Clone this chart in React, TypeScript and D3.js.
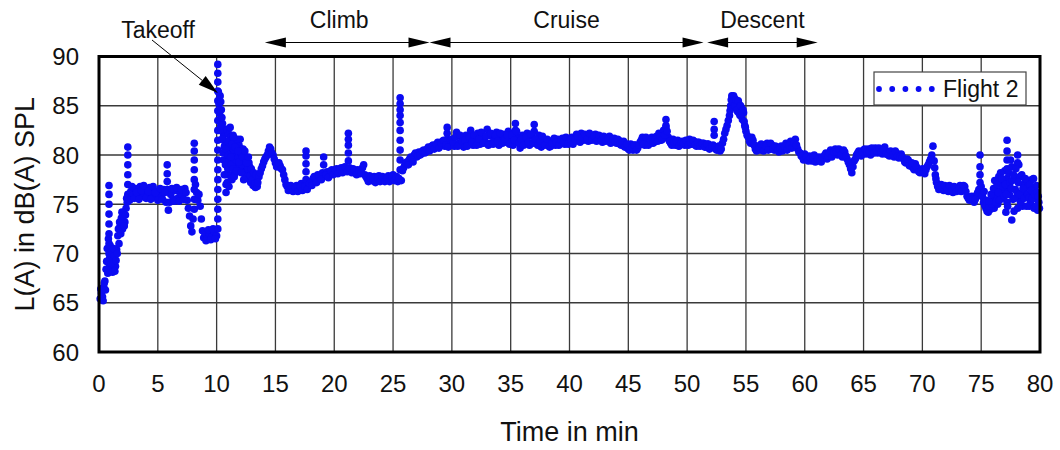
import React from "react";
import * as d3 from "d3";

// ---- data: [time in min, L(A) in dB(A)] ----
const groundRun: [number, number][] = [
  [0.1,65.4],[0.2,66.0],[0.3,65.6],[0.4,66.6],[0.5,67.2],[0.6,68.4],[0.7,70.5],[0.8,71.5],
  [0.85,69],[0.85,70],[0.85,71],[0.85,72],[0.85,73],[0.85,74],[0.85,75],[0.85,76],[0.85,76.9],
  [0.9,69.5],[1.0,68.3],[1.1,70.0],[1.2,68.5],[1.3,69.8],[1.4,68.7],[1.5,70.4],[1.6,71.8],[1.7,71.0],
  [1.8,72.8],[1.9,73.6],[2.0,72.5],[2.1,74.0],[2.2,73.2],[2.3,74.6],[2.4,75.2],
  [2.45,76],[2.45,77],[2.45,78],[2.45,79],[2.45,80],[2.45,80.8],
  [2.5,75.8],[2.7,76.3],[2.9,75.9],[3.1,76.6],[3.3,76.0],[3.5,76.8],[3.7,75.8],[3.9,76.5],[4.1,76.1],
  [4.3,76.7],[4.5,75.9],[4.7,76.4],[4.9,75.7],[5.1,76.3],[5.3,75.8],[5.5,76.5],[5.7,75.2],
  [5.8,76.5],[5.8,77.3],[5.8,78.1],[5.8,79.0],
  [5.9,74.4],[6.1,76.0],[6.3,75.5],[6.5,76.4],[6.7,75.6],[6.9,76.1],[7.1,75.9],[7.3,76.6],[7.5,75.4],
  [7.6,74.6],[7.7,73.8],[7.8,72.8],[7.9,72.2],[8.0,73.5],
  [8.1,74.5],[8.1,75.5],[8.1,76.5],[8.1,77.5],[8.1,78.5],[8.1,79.5],[8.1,80.4],[8.1,81.2],
  [8.2,77.0],[8.3,76.2],[8.4,75.4],[8.5,76.0],[8.6,74.8],[8.7,73.5],[8.8,72.3],[8.9,71.6],
  [9.0,72.1],[9.2,71.5],[9.4,72.0],[9.6,71.7],[9.8,72.2],[10.0,71.8],
];
const groundRunSpread: [number, number][] = [
  [0.15,66.4],[0.35,65.2],[0.45,67.0],[0.55,66.3],[0.65,69.2],[0.75,68.0],[0.95,70.8],[1.05,69.0],
  [1.15,68.1],[1.25,70.5],[1.35,68.2],[1.45,69.3],[1.55,70.0],[1.65,72.5],[1.75,73.2],[1.85,72.0],
  [1.95,74.2],[2.05,73.8],[2.15,72.8],[2.25,73.9],[2.35,75.6],
  [2.6,75.4],[2.8,76.8],[3.0,75.6],[3.2,76.2],[3.4,75.5],[3.6,76.4],[3.8,76.9],[4.0,75.6],[4.2,76.3],
  [4.4,75.5],[4.6,76.8],[4.8,76.2],[5.0,75.4],[5.2,76.6],[5.4,75.5],[5.6,76.2],[6.0,75.2],[6.2,76.6],
  [6.4,75.3],[6.6,76.7],[6.8,75.3],[7.0,76.5],[7.2,75.5],[7.4,76.2],
  [9.1,71.3],[9.3,72.4],[9.5,71.4],[9.7,72.5],[9.9,71.5],
];

const takeoff: [number, number][] = [
  [10.1,72.5],[10.1,73.5],[10.1,74.5],[10.1,75.5],[10.1,76.5],[10.1,77.5],[10.1,78.5],[10.1,79.5],
  [10.1,80.5],[10.1,81.5],[10.1,82.5],[10.1,83.5],[10.1,84.5],[10.1,85.5],[10.1,86.5],[10.1,87.4],
  [10.1,88.3],[10.1,89.2],
  [10.2,85.2],[10.3,86.0],[10.4,84.6],[10.5,83.2],[10.6,82.0],[10.6,79.5],[10.7,81.0],
  [10.8,82.6],[10.8,78.0],[10.8,77.0],[10.8,76.2],[10.9,80.0],[11.0,82.2],[11.1,79.5],[11.1,78.0],
  [11.2,81.8],[11.3,80.4],[11.3,77.5],[11.4,82.0],[11.5,79.2],[11.6,81.3],[11.6,78.2],[11.7,80.0],
  [11.8,78.5],[11.9,81.0],[12.0,79.4],[12.0,81.6],[12.1,80.6],[12.2,78.6],[12.3,80.1],[12.4,79.0],
  [12.5,78.0],[12.6,79.6],[12.7,77.6],[12.8,78.8],[12.9,77.2],[13.0,78.0],[13.1,76.9],[13.2,77.6],
  [13.3,76.7],[13.4,77.3],
];
const takeoffSpread: [number, number][] = [
  [10.15,86.4],[10.25,84.2],[10.35,85.4],[10.45,83.8],[10.55,82.6],[10.65,80.8],[10.75,79.0],
  [10.85,81.4],[10.95,78.6],[11.05,80.8],[11.15,82.8],[11.25,79.0],[11.35,81.2],[11.45,80.5],
  [11.55,80.8],[11.65,79.5],[11.75,81.6],[11.85,79.8],[11.95,78.8],[12.05,80.2],[12.15,79.0],
  [12.25,80.6],[12.35,78.2],[12.45,79.8],[12.55,77.8],[12.65,78.6],[12.75,79.2],[12.85,77.9],
  [12.95,78.6],[13.05,77.5],[13.15,78.2],[13.25,77.1],[13.35,78.0],[13.45,76.8],
  [10.25,82.5],[10.35,83.0],[10.45,81.6],[10.55,80.2],[10.65,78.0],[10.75,80.6],[10.9,77.2],
  [11.0,80.0],[11.05,76.8],[11.2,79.8],[11.25,77.6],[11.4,78.6],[11.45,81.8],[11.5,77.8],
  [11.7,78.4],[11.8,80.4],[11.9,79.3],[12.1,78.2],[12.2,79.8],[12.3,77.5],[12.4,80.4],
  [12.55,79.2],[12.7,79.8],
];

const climb: [number, number][] = [
  [13.6,77.8],[13.8,78.6],[14.0,79.3],[14.2,79.8],[14.4,80.4],[14.6,80.6],[14.8,80.0],[15.0,79.2],
  [15.2,78.8],[15.4,78.9],[15.6,78.5],[15.8,77.5],[16.0,76.8],[16.2,76.5],[16.4,76.8],[16.6,76.4],
  [16.8,76.9],[17.0,76.5],[17.2,77.1],[17.4,76.6],
  [17.6,77.0],[17.6,77.5],[17.6,78.3],[17.6,79.1],[17.6,79.9],[17.6,80.4],
  [17.8,76.8],[18.0,77.3],[18.2,77.6],[18.4,77.4],[18.6,78.0],[18.8,77.7],[19.0,78.2],
  [19.1,79.0],[19.1,79.8],
  [19.2,77.9],[19.4,78.3],[19.6,78.0],[19.8,78.5],[20.0,78.2],[20.2,78.6],[20.4,78.3],[20.6,78.7],
  [20.8,78.4],[21.0,78.6],
  [21.2,79.4],[21.2,80.2],[21.2,81.0],[21.2,81.6],[21.2,82.2],
  [21.4,78.4],[21.6,78.6],[21.8,78.2],[22.0,78.5],[22.2,78.1],[22.4,78.7],[22.5,79.0],[22.6,78.0],
  [22.8,77.6],[23.0,77.9],[23.2,77.4],[23.4,77.8],[23.6,77.5],[23.8,77.9],[24.0,77.4],[24.2,77.7],
  [24.4,77.5],[24.6,77.9],[24.8,77.6],[25.0,78.0],[25.2,77.7],[25.4,77.3],
  [25.6,78.5],[25.6,79.5],[25.6,80.5],[25.6,81.5],[25.6,82.5],[25.6,83.3],[25.6,84.0],[25.6,84.6],
  [25.6,85.2],[25.6,85.8],
  [25.7,77.4],[25.8,78.4],[26.0,79.0],[26.2,79.3],[26.4,79.6],[26.6,79.5],[26.8,80.0],[27.0,79.8],
  [27.2,80.3],[27.4,80.1],[27.6,80.5],[27.8,80.3],[28.0,80.8],[28.2,80.6],[28.4,81.0],[28.6,80.8],
  [28.8,81.3],[29.0,81.0],[29.2,81.4],[29.4,80.9],[29.6,81.6],[29.6,82.2],[29.6,82.8],[29.8,81.2],
];
const climbSpread: [number, number][] = [
  [13.5,77.2],[13.7,78.2],[13.9,78.9],[14.1,79.6],[14.3,80.0],[14.5,80.8],[14.7,80.2],[14.9,79.6],
  [15.1,78.8],[15.3,79.2],[15.5,78.6],[15.7,78.0],[15.9,77.0],[16.1,76.4],[16.3,76.9],[16.5,76.3],
  [16.7,76.7],[16.9,76.3],[17.1,76.8],[17.3,76.4],[17.5,76.8],[17.7,76.5],[17.9,77.1],[18.1,76.9],
  [18.3,77.8],[18.5,77.2],[18.7,77.9],[18.9,77.5],[19.3,78.0],[19.5,77.7],[19.7,78.4],[19.9,78.0],
  [20.1,78.5],[20.3,78.1],[20.5,78.6],[20.7,78.2],[20.9,78.8],[21.1,78.3],[21.3,78.7],[21.5,78.2],
  [21.7,78.5],[21.9,78.0],[22.1,78.4],[22.3,78.2],[22.7,77.8],[22.9,77.3],[23.1,77.7],[23.3,77.6],
  [23.5,77.2],[23.7,77.7],[23.9,77.3],[24.1,77.8],[24.3,77.3],[24.5,77.7],[24.7,77.3],[24.9,77.8],
  [25.1,77.4],[25.3,77.8],[25.5,77.6],[25.9,78.7],[26.1,79.2],[26.3,79.0],[26.5,79.8],[26.7,79.3],
  [26.9,80.2],[27.1,79.9],[27.3,80.0],[27.5,80.4],[27.7,80.2],[27.9,80.6],[28.1,80.4],[28.3,80.9],
  [28.5,80.6],[28.7,81.1],[28.9,80.7],[29.1,81.2],[29.3,81.5],[29.5,81.0],[29.7,80.8],[29.9,81.5],
];

const cruise: [number, number][] = [
  [30.0,81.6],[30.2,80.9],[30.4,82.3],[30.6,81.2],[30.8,81.8],[31.0,80.8],[31.2,82.0],[31.4,81.3],
  [31.6,82.5],[31.8,81.0],[32.0,81.7],[32.2,82.2],[32.4,81.1],[32.6,82.0],[32.8,81.4],[33.0,82.6],
  [33.2,81.2],[33.4,81.9],[33.6,81.5],[33.8,82.3],[34.0,81.0],[34.2,81.8],[34.4,82.1],[34.6,81.3],
  [34.8,82.4],[35.0,81.6],[35.2,81.0],[35.4,83.2],[35.4,82.5],[35.6,81.8],[35.8,80.7],[36.0,82.0],
  [36.2,81.4],[36.4,82.2],[36.6,81.0],[36.8,81.9],[37.0,83.1],[37.0,82.4],[37.2,81.2],[37.4,82.0],
  [37.6,80.8],[37.8,81.6],[38.0,81.1],[38.2,81.4],[38.4,80.9],[38.6,81.5],[38.8,81.0],[39.0,81.6],
  [39.2,81.2],[39.4,81.7],[39.6,81.1],[39.8,81.5],[40.0,81.3],[40.2,81.8],[40.4,81.4],[40.6,82.1],
  [40.8,81.6],[41.0,82.2],[41.2,81.5],[41.4,81.9],[41.6,81.4],[41.8,82.0],[42.0,81.6],[42.2,82.1],
  [42.4,81.7],[42.6,81.9],[42.8,81.3],[43.0,81.8],[43.2,81.5],[43.4,81.9],[43.6,81.3],[43.8,81.7],
  [44.0,81.2],[44.2,81.5],[44.4,81.0],[44.6,81.4],[44.8,80.9],[45.0,80.6],[45.2,81.1],[45.4,80.5],
  [45.6,81.0],[45.8,80.7],[46.0,81.3],[46.2,81.8],[46.4,81.0],[46.6,81.6],[46.8,81.2],[47.0,81.8],
  [47.2,81.3],[47.4,81.9],[47.6,82.2],[47.8,81.5],[48.0,82.5],[48.2,83.6],[48.2,82.8],[48.2,83.0],
  [48.4,81.8],[48.6,81.2],[48.8,81.6],[49.0,81.0],[49.2,81.5],[49.4,81.1],[49.6,81.4],[49.8,81.0],
  [50.0,81.3],[50.2,81.6],[50.4,81.1],[50.6,81.4],[50.8,80.9],[51.0,81.3],[51.2,81.0],[51.4,81.2],
  [51.6,80.8],[51.8,81.1],[52.0,80.7],[52.2,81.0],[52.3,83.4],[52.3,82.6],[52.3,82.0],
];
const cruiseSpread: [number, number][] = [
  [30.1,81.3],[30.3,81.8],[30.5,80.9],[30.7,82.0],[30.9,81.4],[31.1,81.5],[31.3,80.9],[31.5,81.8],
  [31.7,81.3],[31.9,82.0],[32.1,81.0],[32.3,81.6],[32.5,82.3],[32.7,81.2],[32.9,81.9],[33.1,81.0],
  [33.3,82.2],[33.5,81.1],[33.7,82.0],[33.9,81.4],[34.1,82.2],[34.3,81.2],[34.5,81.6],[34.7,82.0],
  [34.9,81.1],[35.1,82.0],[35.3,81.5],[35.5,82.4],[35.7,81.2],[35.9,81.6],[36.1,81.0],[36.3,81.8],
  [36.5,81.3],[36.7,82.1],[36.9,81.2],[37.1,81.6],[37.3,81.0],[37.5,81.4],[37.7,81.9],[37.9,81.0],
  [38.1,81.6],[38.3,80.8],[38.5,81.2],[38.7,81.7],[38.9,81.3],[39.1,81.0],[39.3,81.5],[39.5,81.3],
  [39.7,81.8],[39.9,81.1],[40.1,81.6],[40.3,81.1],[40.5,81.6],[40.7,81.9],[40.9,81.3],[41.1,81.8],
  [41.3,82.1],[41.5,81.6],[41.7,82.2],[41.9,81.5],[42.1,81.9],[42.3,81.4],[42.5,82.0],[42.7,81.5],
  [42.9,81.9],[43.1,81.4],[43.3,81.7],[43.5,81.2],[43.7,81.6],[43.9,81.4],[44.1,81.6],[44.3,81.1],
  [44.5,81.3],[44.7,80.8],[44.9,81.1],[45.1,80.5],[45.3,80.8],[45.5,81.0],[45.7,80.5],[45.9,81.0],
  [46.1,81.5],[46.3,81.1],[46.5,81.8],[46.7,81.0],[46.9,81.5],[47.1,81.2],[47.3,81.6],[47.5,81.4],
  [47.7,81.9],[47.9,81.6],[48.1,82.0],[48.3,82.4],[48.5,81.4],[48.7,81.0],[48.9,81.3],[49.1,81.4],
  [49.3,80.9],[49.5,81.3],[49.7,81.2],[49.9,81.5],[50.1,81.0],[50.3,81.3],[50.5,81.5],[50.7,81.0],
  [50.9,81.3],[51.1,80.9],[51.3,81.2],[51.5,80.8],[51.7,81.1],[51.9,80.6],[52.1,80.9],
];

const descent: [number, number][] = [
  [52.4,80.8],[52.6,80.6],[52.8,80.4],[53.0,81.2],[53.2,82.2],[53.4,83.0],[53.6,84.0],[53.7,85.0],
  [53.8,86.0],[53.9,85.3],[54.0,85.8],[54.1,84.8],[54.2,85.5],[54.3,84.4],[54.4,85.2],[54.5,84.0],
  [54.6,84.8],[54.7,83.6],[54.8,84.3],[54.9,83.0],[55.0,82.4],[55.2,81.8],[55.4,81.2],[55.6,81.5],
  [55.8,80.6],[56.0,80.9],[56.2,80.5],[56.4,81.0],[56.6,80.6],[56.8,81.2],[57.0,80.7],[57.2,81.0],
  [57.4,80.5],[57.6,80.8],[57.8,80.3],[58.0,80.9],[58.2,80.6],[58.4,81.2],[58.6,80.8],[58.8,81.4],
  [59.0,81.0],[59.2,81.6],[59.4,80.6],[59.6,80.2],[59.8,79.8],[60.0,80.1],[60.2,79.6],[60.4,79.9],
  [60.6,79.4],[60.8,80.0],[61.0,79.5],[61.2,79.8],[61.4,79.3],[61.6,79.7],[61.8,80.2],
];
const descentSpread: [number, number][] = [
  [52.5,80.5],[52.7,80.9],[52.9,80.6],[53.1,81.6],[53.3,82.6],[53.5,83.5],[53.65,84.5],[53.75,85.6],
  [53.85,85.4],[53.95,86.0],[54.05,85.0],[54.15,85.6],[54.25,84.6],[54.35,85.5],[54.45,84.2],
  [54.55,85.0],[54.65,84.1],[54.75,84.6],[54.85,83.4],[54.95,82.8],[55.1,82.0],[55.3,81.4],
  [55.5,81.8],[55.7,81.0],[55.9,80.4],[56.1,80.7],[56.3,81.1],[56.5,80.4],[56.7,80.9],[56.9,80.5],
  [57.1,81.2],[57.3,80.6],[57.5,80.9],[57.7,80.5],[57.9,80.7],[58.1,80.4],[58.3,80.9],[58.5,80.5],
  [58.7,81.0],[58.9,80.7],[59.1,81.2],[59.3,81.0],[59.5,80.3],[59.7,79.9],[59.9,79.5],[60.1,79.8],
  [60.3,79.4],[60.5,79.7],[60.7,79.8],[60.9,79.3],[61.1,79.6],[61.3,79.4],[61.5,79.8],[61.7,80.0],
  [61.9,79.6],
];

const approach: [number, number][] = [
  [62.0,79.9],[62.2,80.5],[62.4,80.1],[62.6,80.6],[62.8,80.0],[63.0,80.4],[63.2,79.8],[63.4,80.3],
  [63.6,79.6],[63.8,79.0],[64.0,78.2],[64.1,78.8],[64.2,79.4],[64.4,80.0],[64.6,80.4],[64.8,79.9],
  [65.0,80.5],[65.2,80.1],[65.4,80.6],[65.6,80.0],[65.8,80.4],[66.0,80.7],[66.2,80.2],[66.4,80.5],
  [66.6,80.1],[66.8,80.8],[67.0,80.3],[67.2,79.9],[67.4,80.3],[67.6,79.8],[67.8,80.2],[68.0,79.7],
  [68.2,80.1],[68.4,79.6],[68.6,79.2],[68.8,79.5],[69.0,79.0],[69.2,78.7],[69.4,79.1],[69.6,78.5],
  [69.8,78.2],[70.0,78.6],[70.2,78.1],[70.4,78.8],[70.6,79.3],[70.8,80.0],[70.9,80.9],[71.0,79.4],
  [71.1,78.0],[71.2,77.2],[71.4,76.5],[71.6,77.0],[71.8,76.4],[72.0,76.8],[72.2,76.3],[72.4,76.7],
  [72.6,76.2],[72.8,76.6],[73.0,76.4],[73.2,76.9],[73.4,76.5],[73.6,76.8],[73.8,75.8],[74.0,75.4],
  [74.2,75.8],[74.4,75.2],[74.6,75.9],[74.8,76.5],
  [74.9,77.2],[74.9,78.0],[74.9,78.8],[74.9,80.0],
  [75.0,76.8],[75.2,75.2],[75.4,74.6],[75.6,74.2],[75.8,74.5],[76.0,75.4],[76.1,74.6],[76.2,76.4],
  [76.4,75.0],[76.5,77.8],[76.6,77.2],[76.8,75.6],[77.0,78.4],[77.1,74.2],
  [77.2,81.5],[77.2,80.4],[77.2,79.5],[77.2,78.6],[77.2,77.6],[77.2,76.4],[77.2,75.2],
  [77.4,76.0],[77.5,79.5],[77.6,73.4],[77.6,78.8],[77.8,74.3],[78.0,77.6],[78.1,74.6],[78.1,80.0],
  [78.1,79.2],[78.2,79.0],[78.3,77.8],[78.4,75.4],[78.5,74.8],[78.6,77.0],[78.8,75.8],[78.9,77.4],
  [79.0,76.8],[79.1,74.8],[79.2,75.2],[79.3,77.5],[79.4,76.4],[79.5,74.6],[79.6,75.6],[79.7,76.9],
  [79.8,74.4],
];
const approachSpread: [number, number][] = [
  [62.1,80.2],[62.3,79.8],[62.5,80.3],[62.7,80.3],[62.9,80.6],[63.1,80.0],[63.3,80.5],[63.5,79.9],
  [63.7,79.3],[63.9,78.6],[64.3,79.6],[64.5,80.2],[64.7,80.0],[64.9,80.3],[65.1,80.6],[65.3,80.3],
  [65.5,80.4],[65.7,80.7],[65.9,80.2],[66.1,80.4],[66.3,80.7],[66.5,80.3],[66.7,80.5],[66.9,80.1],
  [67.1,80.0],[67.3,80.4],[67.5,80.0],[67.7,80.4],[67.9,79.9],[68.1,79.8],[68.3,79.8],[68.5,79.3],
  [68.7,79.6],[68.9,78.9],[69.1,79.2],[69.3,78.5],[69.5,78.8],[69.7,78.3],[69.9,78.4],[70.1,78.3],
  [70.3,78.5],[70.5,79.0],[70.7,79.6],[71.05,78.7],[71.15,77.6],[71.3,76.8],[71.5,76.7],[71.7,76.6],
  [71.9,76.9],[72.1,76.5],[72.3,76.9],[72.5,76.4],[72.7,76.8],[72.9,76.3],[73.1,76.6],[73.3,76.3],
  [73.5,76.9],[73.7,76.3],[73.9,75.6],[74.1,75.7],[74.3,75.5],[74.5,75.5],[74.7,76.2],[75.1,75.8],
  [75.3,74.9],[75.5,74.3],[75.7,74.8],[75.9,75.0],[76.3,75.8],[76.7,76.4],[76.9,77.0],[77.3,77.0],
  [77.7,75.5],[77.9,76.5],[78.7,76.2],[79.9,75.2],
  [75.05,75.8],[75.25,76.3],[75.45,75.4],[75.65,75.3],[75.85,76.0],[76.05,76.6],[76.15,77.4],
  [76.25,75.2],[76.35,77.0],[76.45,76.2],[76.55,75.4],[76.65,78.2],[76.75,77.6],[76.85,76.8],
  [76.95,75.8],[77.05,77.0],[77.15,76.0],[77.25,74.8],[77.35,78.2],[77.45,77.2],[77.55,76.6],
  [77.65,77.4],[77.75,78.0],[77.85,75.6],[77.95,78.6],[78.05,76.2],[78.15,77.2],[78.25,76.0],
  [78.35,75.2],[78.45,78.0],[78.55,76.6],[78.65,75.6],[78.75,77.6],[78.85,74.8],[78.95,76.0],
  [79.05,75.6],[79.15,77.0],[79.25,76.4],[79.35,75.6],[79.45,77.6],[79.55,76.0],[79.65,74.8],
  [79.75,76.2],[79.85,75.8],[79.95,74.6],
];

const xTicks = [0, 5, 10, 15, 20, 25, 30, 35, 40, 45, 50, 55, 60, 65, 70, 75, 80];
const yTicks = [60, 65, 70, 75, 80, 85, 90];

// flight phases (start, end in min)
const phaseNames = ["Climb", "Cruise", "Descent"];
const phaseStart = [14.1, 28.1, 51.7];
const phaseEnd = [28.1, 51.4, 61.1];
const takeoffPoint: [number, number] = [10.1, 86.3];
const seriesName = "Flight 2";

const W = 1060, H = 450;
const M = { left: 99, right: 20, top: 56.5, bottom: 98 };
const BLUE = "#0b0bf2";
const FONT = "Liberation Sans, Arial, sans-serif";

function Arrowhead({ x, y, dir }: { x: number; y: number; dir: number }) {
  const len = 21, hw = 5;
  return <polygon points={`${x},${y} ${x - dir * len},${y - hw} ${x - dir * len},${y + hw}`} fill="#000" />;
}

export default function App() {
  const x = d3.scaleLinear().domain([0, 80]).range([M.left, W - M.right]);
  const y = d3.scaleLinear().domain([60, 90]).range([H - M.bottom, M.top]);
  const all = [
    ...groundRun, ...groundRunSpread, ...takeoff, ...takeoffSpread, ...climb, ...climbSpread,
    ...cruise, ...cruiseSpread, ...descent, ...descentSpread, ...approach, ...approachSpread,
  ];
  const arrowY = 42.5;

  const tx0 = 152, ty0 = 40;
  const tx1 = x(takeoffPoint[0]), ty1 = y(takeoffPoint[1]);
  const ang = Math.atan2(ty1 - ty0, tx1 - tx0);
  const hl = 20, hw = 5.5;
  const bx = tx1 - hl * Math.cos(ang), by = ty1 - hl * Math.sin(ang);
  const px = -Math.sin(ang) * hw, py = Math.cos(ang) * hw;

  return (
    <svg width={W} height={H} style={{ position: "absolute", left: 0, top: 0, background: "#fff" }} fontFamily={FONT}>
      <rect x={0} y={0} width={W} height={H} fill="#fff" />
      {xTicks.slice(1, -1).map((t) => (
        <line key={"gx" + t} x1={x(t)} x2={x(t)} y1={y(60)} y2={y(90)} stroke="#3a3a3a" strokeWidth={1.3} />
      ))}
      {yTicks.slice(1, -1).map((v) => (
        <line key={"gy" + v} x1={x(0)} x2={x(80)} y1={y(v)} y2={y(v)} stroke="#3a3a3a" strokeWidth={1.3} />
      ))}
      <g fill={BLUE}>
        {all.map((d, i) => (
          <circle key={i} cx={x(d[0])} cy={y(d[1])} r={3.8} />
        ))}
      </g>
      <rect x={x(0)} y={y(90)} width={x(80) - x(0)} height={y(60) - y(90)} fill="none" stroke="#000" strokeWidth={3} />
      {yTicks.map((v) => (
        <text key={"ty" + v} x={x(0) - 20} y={y(v)} dy="0.36em" textAnchor="end" fontSize={24} fill="#111">{v}</text>
      ))}
      {xTicks.map((t) => (
        <text key={"tx" + t} x={x(t)} y={392} textAnchor="middle" fontSize={24} fill="#111">{t}</text>
      ))}
      <text x={(x(0) + x(80)) / 2} y={441} textAnchor="middle" fontSize={27} fill="#111">Time in min</text>
      <text transform={`translate(34,${(y(60) + y(90)) / 2}) rotate(-90)`} textAnchor="middle" fontSize={27} fill="#111">L(A) in dB(A) SPL</text>
      <rect x={874} y={72} width={152} height={33} fill="#fff" stroke="#444" strokeWidth={1.2} />
      {[0, 1, 2, 3, 4].map((k) => (
        <circle key={"lg" + k} cx={879 + k * 13.2} cy={89} r={2.9} fill={BLUE} />
      ))}
      <text x={943} y={97} fontSize={23} fill="#111">{seriesName}</text>
      {phaseNames.map((n, i) => {
        const a = x(phaseStart[i]), b = x(phaseEnd[i]);
        return (
          <g key={n}>
            <line x1={a + 10} x2={b - 10} y1={arrowY} y2={arrowY} stroke="#000" strokeWidth={1} />
            <Arrowhead x={a} y={arrowY} dir={-1} />
            <Arrowhead x={b} y={arrowY} dir={1} />
            <text x={(a + b) / 2 + (i === 0 ? -8 : 0)} y={28} textAnchor="middle" fontSize={23} fill="#111">{n}</text>
          </g>
        );
      })}
      <text x={158} y={38} textAnchor="middle" fontSize={23} fill="#111">Takeoff</text>
      <line x1={tx0} y1={ty0} x2={bx} y2={by} stroke="#000" strokeWidth={1} />
      <polygon points={`${tx1},${ty1} ${bx + px},${by + py} ${bx - px},${by - py}`} fill="#000" />
    </svg>
  );
}
